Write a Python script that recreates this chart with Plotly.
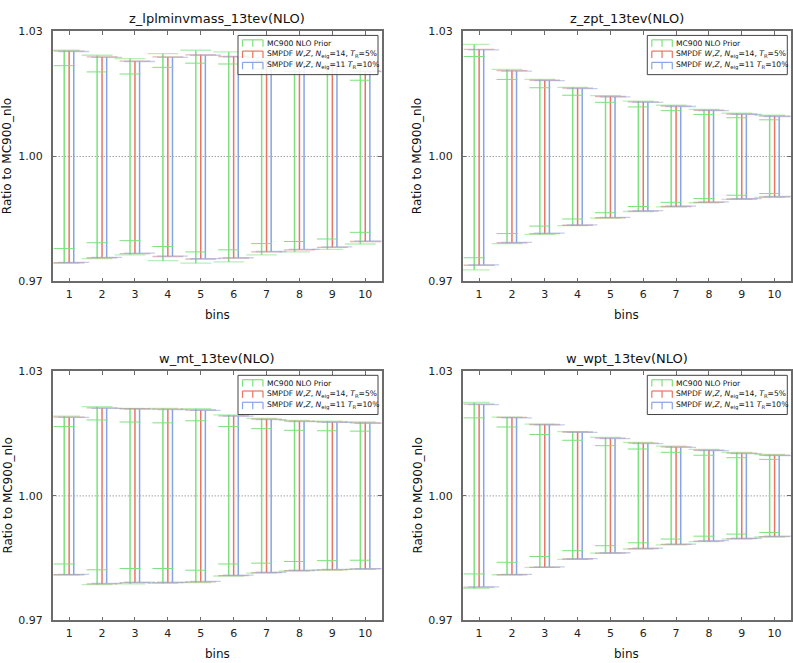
import plotly.graph_objects as go

bins = [1, 2, 3, 4, 5, 6, 7, 8, 9, 10]
titles = ["z_lplminvmass_13tev(NLO)", "z_zpt_13tev(NLO)", "w_mt_13tev(NLO)", "w_wpt_13tev(NLO)"]
yticks = [0.97, 1.00, 1.03]
ytick_text = ["0.97", "1.00", "1.03"]
names = ["MC900 NLO Prior",
         "SMPDF <i>W</i>,<i>Z</i>, <i>N</i><sub>eig</sub>=14, <i>T</i><sub>R</sub>=5%",
         "SMPDF <i>W</i>,<i>Z</i>, <i>N</i><sub>eig</sub>=11 <i>T</i><sub>R</sub>=10%"]

# ---- panel 1: z_lplminvmass ----
p1_prior_hi = [1.0255, 1.0243, 1.0235, 1.0247, 1.0255, 1.0251, 1.0237, 1.0230, 1.0224, 1.0212]
p1_prior_lo = [0.9744, 0.9755, 0.9764, 0.9750, 0.9744, 0.9747, 0.9764, 0.9771, 0.9777, 0.9790]
p1_prior_in_hi = [1.0218, 1.0203, 1.0198, 1.0214, 1.0224, 1.0222, 1.0210, 1.0204, 1.0198, 1.0183]
p1_prior_in_lo = [0.9779, 0.9793, 0.9798, 0.9784, 0.9771, 0.9776, 0.9791, 0.9796, 0.9802, 0.9818]
p1_n14_hi = [1.0253, 1.0239, 1.0229, 1.0239, 1.0244, 1.0240, 1.0230, 1.0224, 1.0218, 1.0205]
p1_n14_lo = [0.9745, 0.9757, 0.9767, 0.9760, 0.9754, 0.9756, 0.9771, 0.9776, 0.9782, 0.9796]
p1_n11_hi = [1.0252, 1.0238, 1.0228, 1.0238, 1.0243, 1.0239, 1.0229, 1.0223, 1.0217, 1.0204]
p1_n11_lo = [0.9746, 0.9758, 0.9768, 0.9761, 0.9755, 0.9757, 0.9772, 0.9777, 0.9783, 0.9797]

# ---- panel 2: z_zpt ----
p2_prior_hi = [1.0269, 1.0209, 1.0185, 1.0166, 1.0146, 1.0133, 1.0123, 1.0113, 1.0104, 1.0099]
p2_prior_lo = [0.9728, 0.9791, 0.9813, 0.9834, 0.9852, 0.9868, 0.9879, 0.9889, 0.9897, 0.9902]
p2_prior_in_hi = [1.0240, 1.0185, 1.0165, 1.0147, 1.0130, 1.0119, 1.0110, 1.0101, 1.0093, 1.0088]
p2_prior_in_lo = [0.9757, 0.9815, 0.9833, 0.9850, 0.9865, 0.9880, 0.9890, 0.9899, 0.9907, 0.9911]
p2_n14_hi = [1.0257, 1.0206, 1.0183, 1.0164, 1.0144, 1.0131, 1.0121, 1.0111, 1.0102, 1.0097]
p2_n14_lo = [0.9739, 0.9793, 0.9815, 0.9835, 0.9853, 0.9869, 0.9880, 0.9890, 0.9898, 0.9903]
p2_n11_hi = [1.0256, 1.0205, 1.0182, 1.0163, 1.0143, 1.0130, 1.0120, 1.0110, 1.0101, 1.0096]
p2_n11_lo = [0.9740, 0.9794, 0.9816, 0.9836, 0.9854, 0.9870, 0.9881, 0.9891, 0.9899, 0.9904]

# ---- panel 3: w_mt ----
p3_prior_hi = [1.0192, 1.0215, 1.0211, 1.0211, 1.0210, 1.0195, 1.0187, 1.0182, 1.0180, 1.0178]
p3_prior_lo = [0.9810, 0.9786, 0.9788, 0.9789, 0.9791, 0.9807, 0.9814, 0.9819, 0.9821, 0.9823]
p3_prior_in_hi = [1.0167, 1.0183, 1.0178, 1.0176, 1.0181, 1.0167, 1.0162, 1.0158, 1.0157, 1.0156]
p3_prior_in_lo = [0.9836, 0.9822, 0.9825, 0.9825, 0.9821, 0.9836, 0.9838, 0.9842, 0.9844, 0.9845]
p3_n14_hi = [1.0190, 1.0212, 1.0210, 1.0209, 1.0207, 1.0193, 1.0185, 1.0180, 1.0178, 1.0176]
p3_n14_lo = [0.9810, 0.9788, 0.9791, 0.9791, 0.9793, 0.9808, 0.9815, 0.9820, 0.9822, 0.9824]
p3_n11_hi = [1.0189, 1.0211, 1.0209, 1.0208, 1.0206, 1.0192, 1.0184, 1.0179, 1.0177, 1.0175]
p3_n11_lo = [0.9811, 0.9789, 0.9792, 0.9792, 0.9794, 0.9809, 0.9816, 0.9821, 0.9823, 0.9825]

# ---- panel 4: w_wpt ----
p4_prior_hi = [1.0225, 1.0190, 1.0173, 1.0155, 1.0141, 1.0129, 1.0120, 1.0112, 1.0105, 1.0100]
p4_prior_lo = [0.9777, 0.9810, 0.9828, 0.9847, 0.9862, 0.9872, 0.9882, 0.9890, 0.9896, 0.9901]
p4_prior_in_hi = [1.0188, 1.0166, 1.0148, 1.0134, 1.0121, 1.0113, 1.0105, 1.0098, 1.0092, 1.0088]
p4_prior_in_lo = [0.9812, 0.9840, 0.9854, 0.9868, 0.9880, 0.9887, 0.9896, 0.9903, 0.9908, 0.9912]
p4_n14_hi = [1.0221, 1.0189, 1.0172, 1.0154, 1.0139, 1.0127, 1.0118, 1.0110, 1.0103, 1.0098]
p4_n14_lo = [0.9780, 0.9810, 0.9828, 0.9848, 0.9862, 0.9873, 0.9883, 0.9891, 0.9897, 0.9902]
p4_n11_hi = [1.0220, 1.0188, 1.0171, 1.0153, 1.0138, 1.0126, 1.0117, 1.0109, 1.0102, 1.0097]
p4_n11_lo = [0.9781, 0.9811, 0.9829, 0.9849, 0.9863, 0.9874, 0.9884, 0.9892, 0.9898, 0.9903]

panels = [
    (p1_prior_hi, p1_prior_lo, p1_prior_in_hi, p1_prior_in_lo, p1_n14_hi, p1_n14_lo, p1_n11_hi, p1_n11_lo),
    (p2_prior_hi, p2_prior_lo, p2_prior_in_hi, p2_prior_in_lo, p2_n14_hi, p2_n14_lo, p2_n11_hi, p2_n11_lo),
    (p3_prior_hi, p3_prior_lo, p3_prior_in_hi, p3_prior_in_lo, p3_n14_hi, p3_n14_lo, p3_n11_hi, p3_n11_lo),
    (p4_prior_hi, p4_prior_lo, p4_prior_in_hi, p4_prior_in_lo, p4_n14_hi, p4_n14_lo, p4_n11_hi, p4_n11_lo),
]

GREEN = "rgb(125,225,125)"
RED = "rgb(232,118,98)"
BLUE = "rgb(135,165,228)"
CAPS = ["rgba(125,225,125,0.55)", "rgba(200,130,120,0.55)", "rgba(150,165,215,0.55)"]
colors = [GREEN, RED, BLUE]
offsets = [-0.15, 0.0, 0.14]

W, H = 793, 663
# panel pixel boxes (left, right, top, bottom)
px_x = [(52.7, 381.7), (462.7, 791.0)]
px_y = [(26.0, 281.0), (372.7, 626.7)]


def fx(px):
    return px / W


def fy(py):
    return 1 - py / H


fig = go.Figure()
FONT = "DejaVu Sans"
shapes = []
annots = []

for i, pdata in enumerate(panels):
    row, col = divmod(i, 2)
    xa = "x" if i == 0 else f"x{i+1}"
    ya = "y" if i == 0 else f"y{i+1}"
    hi_lo = [(pdata[0], pdata[1]), (pdata[4], pdata[5]), (pdata[6], pdata[7])]
    for k, (hi, lo) in enumerate(hi_lo):
        xs = [b + offsets[k] for b in bins]
        mid = [(h + l) / 2 for h, l in zip(hi, lo)]
        fig.add_trace(go.Scatter(
            x=xs, y=mid, mode="markers", xaxis=xa, yaxis=ya,
            marker=dict(size=1, color="rgba(0,0,0,0)"),
            error_y=dict(type="data", symmetric=False,
                         array=[h - m for h, m in zip(hi, mid)],
                         arrayminus=[m - l for m, l in zip(mid, lo)],
                         color=colors[k], thickness=1.5, width=0),
            showlegend=False, hoverinfo="skip"))
        # caps
        fig.add_trace(go.Scatter(
            x=xs + xs, y=list(hi) + list(lo), mode="markers", xaxis=xa, yaxis=ya,
            marker=dict(symbol="line-ew", size=22, line=dict(color=CAPS[k], width=1.3)),
            showlegend=False, hoverinfo="skip"))
    # inner prior ticks
    xs = [b + offsets[0] for b in bins]
    fig.add_trace(go.Scatter(
        x=xs + xs, y=list(pdata[2]) + list(pdata[3]), mode="markers", xaxis=xa, yaxis=ya,
        marker=dict(symbol="line-ew", size=15, line=dict(color=GREEN, width=1)),
        showlegend=False, hoverinfo="skip"))

    L, R = px_x[col]
    T, B = px_y[row]
    axis_common = dict(showline=True, linecolor="#6b6b6b", linewidth=1.5, mirror="ticks",
                       ticks="inside", ticklen=4, tickcolor="#6b6b6b", tickwidth=1,
                       showgrid=False, zeroline=False,
                       tickfont=dict(family=FONT, size=11, color="#222"))
    fig.update_layout(**{
        ("xaxis" if i == 0 else f"xaxis{i+1}"): dict(
            domain=[fx(L), fx(R)], anchor=ya, range=[0.5, 10.5], tickmode="array",
            tickvals=bins, ticklabelstandoff=2, **axis_common),
        ("yaxis" if i == 0 else f"yaxis{i+1}"): dict(
            domain=[fy(B), fy(T)], anchor=xa, range=[0.97, 1.03], tickmode="array",
            tickvals=yticks, ticktext=ytick_text, ticklabelstandoff=6, **axis_common),
    })
    # dotted line at 1.0
    shapes.append(dict(type="line", xref=f"{xa} domain", yref=ya, x0=0, x1=1, y0=1.0, y1=1.0,
                       line=dict(color="#777", width=1, dash="1px,2px"), layer="below"))
    # titles
    annots.append(dict(text=titles[i], xref="paper", yref="paper", x=fx((L + R) / 2),
                       y=fy(T - 13), xanchor="center", yanchor="middle", showarrow=False,
                       font=dict(family=FONT, size=13, color="#111")))
    annots.append(dict(text="bins", xref="paper", yref="paper", x=fx((L + R) / 2),
                       y=fy(B + 34), xanchor="center", yanchor="middle", showarrow=False,
                       font=dict(family=FONT, size=12, color="#111")))
    annots.append(dict(text="Ratio to MC900_nlo", xref="paper", yref="paper",
                       x=fx(L - 45), y=fy((T + B) / 2), xanchor="center", yanchor="middle",
                       textangle=-90, showarrow=False,
                       font=dict(family=FONT, size=12, color="#111")))

    # manual legend box
    lr = R - 3.7
    ll = lr - 140
    lt = T + 4
    lb = lt + 40
    shapes.append(dict(type="rect", xref="paper", yref="paper",
                       x0=fx(ll), x1=fx(lr), y0=fy(lb), y1=fy(lt),
                       fillcolor="rgba(255,255,255,0.85)", line=dict(color="#444", width=1),
                       layer="above"))
    for k in range(3):
        cy = lt + 8 + 11.5 * k
        sx0, sx1 = ll + 4.5, ll + 25
        top_y, bot_y = cy - 3.5, cy + 3.5
        shapes.append(dict(type="line", xref="paper", yref="paper",
                           x0=fx(sx0), x1=fx(sx1), y0=fy(top_y), y1=fy(top_y),
                           line=dict(color=colors[k], width=1.2), layer="above"))
        for sx in (sx0, (sx0 + sx1) / 2, sx1):
            shapes.append(dict(type="line", xref="paper", yref="paper",
                               x0=fx(sx), x1=fx(sx), y0=fy(top_y), y1=fy(bot_y),
                               line=dict(color=colors[k], width=1.2), layer="above"))
        annots.append(dict(text=names[k], xref="paper", yref="paper",
                           x=fx(ll + 27), y=fy(cy), xanchor="left", yanchor="middle",
                           showarrow=False, font=dict(family=FONT, size=7.6, color="#111")))

fig.update_layout(width=W, height=H, margin=dict(l=0, r=0, t=0, b=0),
                  paper_bgcolor="white", plot_bgcolor="white", showlegend=False,
                  shapes=shapes, annotations=annots)

fig.write_html("out.html", config={"displayModeBar": False},
               post_script="document.body.style.margin='0';")
